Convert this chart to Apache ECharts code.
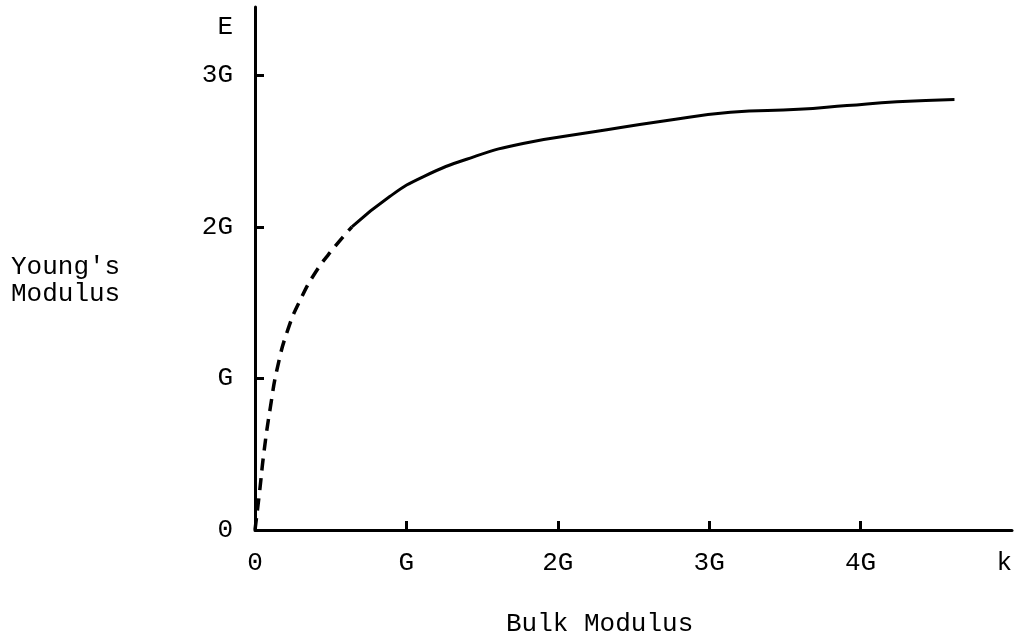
<!DOCTYPE html>
<html>
<head>
<meta charset="utf-8">
<script src="https://cdn.jsdelivr.net/npm/echarts@6/dist/echarts.min.js"></script>
<style>
  html, body { margin: 0; padding: 0; background: #fff; }
  #main { width: 1015px; height: 642px; }
</style>
</head>
<body>
<div id="main"></div>
<script>
// bulk modulus k (in units of G) and Young's modulus E (in units of G)
var dashedK = [0, 0.03, 0.06, 0.1, 0.15, 0.22, 0.3, 0.4, 0.52, 0.64];
var dashedE = [0, 0.25, 0.52, 0.80, 1.08, 1.33, 1.52, 1.70, 1.86, 2.0];
var solidK = [0.64, 0.89, 1.11, 1.44, 1.77, 2.26, 2.71, 3.14, 3.59, 3.91, 4.24, 4.62];
var solidE = [2.0, 2.20, 2.33, 2.46, 2.55, 2.63, 2.70, 2.755, 2.775, 2.80, 2.825, 2.84];
var xTickValues = [1, 2, 3, 4];
var xLabelValues = [0, 1, 2, 3, 4, 5];
var xLabelText = ['0', 'G', '2G', '3G', '4G', 'k'];
var yTickValues = [1, 2, 3];
var yLabelValues = [0, 1, 2, 3, 3.32];
var yLabelText = ['0', 'G', '2G', '3G', 'E'];

var font = 'Liberation Mono';

function pairs(xs, ys) {
  return xs.map(function (x, i) { return [x, ys[i]]; });
}

var chart = echarts.init(document.getElementById('main'));
var option = {
  animation: false,
  backgroundColor: '#fff',
  grid: { left: 255, right: 3, top: 7, bottom: 112 },
  xAxis: {
    type: 'value',
    min: 0,
    max: 5,
    interval: 1,
    splitLine: { show: false },
    axisLine: { lineStyle: { color: '#000', width: 3 } },
    axisTick: { show: true, inside: true, length: 9, customValues: xTickValues, lineStyle: { color: '#000', width: 3 } },
    axisLabel: {
      customValues: xLabelValues,
      color: '#000',
      fontFamily: font,
      fontSize: 26,
      margin: 20,
      alignMaxLabel: 'right',
      formatter: function (v) {
        var i = xLabelValues.indexOf(v);
        return i >= 0 ? xLabelText[i] : '';
      }
    }
  },
  yAxis: {
    type: 'value',
    min: 0,
    max: 3.45,
    splitLine: { show: false },
    axisLine: { lineStyle: { color: '#000', width: 3 } },
    axisTick: { show: true, inside: true, length: 9, customValues: yTickValues, lineStyle: { color: '#000', width: 3 } },
    axisLabel: {
      customValues: yLabelValues,
      color: '#000',
      fontFamily: font,
      fontSize: 26,
      margin: 22,
      formatter: function (v) {
        var i = yLabelValues.indexOf(v);
        return i >= 0 ? yLabelText[i] : '';
      }
    }
  },
  graphic: [
    {
      type: 'text', left: 506, top: 611,
      style: { text: 'Bulk Modulus', fill: '#000', font: '26px "' + font + '"' }
    },
    {
      type: 'text', left: 11, top: 254,
      style: { text: "Young's\nModulus", fill: '#000', font: '26px "' + font + '"', lineHeight: 27 }
    }
  ],
  series: [
    {
      type: 'line',
      data: pairs(dashedK, dashedE),
      smooth: true,
      showSymbol: false,
      lineStyle: { color: '#000', width: 3.5, type: [12, 8] }
    },
    {
      type: 'line',
      data: pairs(solidK, solidE),
      smooth: true,
      showSymbol: false,
      lineStyle: { color: '#000', width: 3 }
    }
  ]
};
chart.setOption(option);
</script>
</body>
</html>
